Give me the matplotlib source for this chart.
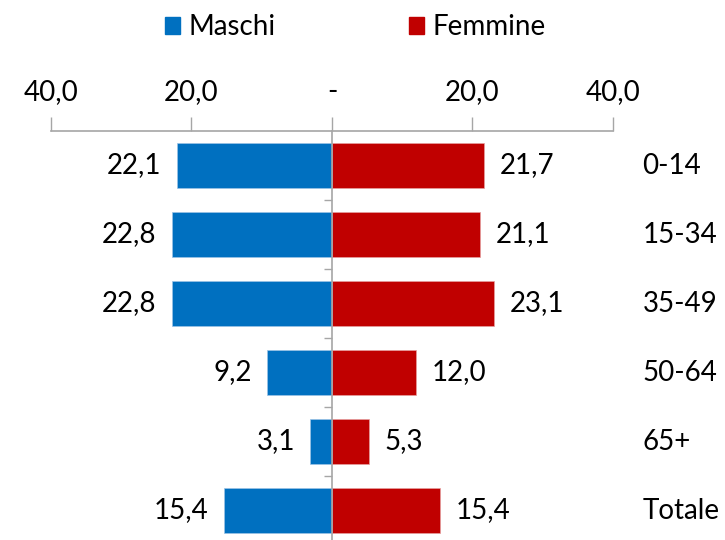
import matplotlib
matplotlib.use("Agg")
import matplotlib.pyplot as plt
from matplotlib.patches import Patch
from matplotlib.ticker import FixedLocator, FuncFormatter

categories = ["0-14", "15-34", "35-49", "50-64", "65+", "Totale"]
maschi = [22.1, 22.8, 22.8, 9.2, 3.1, 15.4]
femmine = [21.7, 21.1, 23.1, 12.0, 5.3, 15.4]
xticks = [-40, -20, 0, 20, 40]

BLUE = "#0070C0"
RED = "#C00000"
GRAY = "#A6A6A6"
FS = 20

plt.rcParams['font.family'] = ['Lato', 'DejaVu Sans']

fig = plt.figure(figsize=(7.25, 5.4), dpi=100)
ax = fig.add_axes([0.0703, -0.0093, 0.7752, 0.7667])

y = list(range(len(categories)))
ax.barh(y, [-v for v in maschi], height=0.64, color=BLUE, edgecolor="#9DC3E6", linewidth=0.5)
ax.barh(y, femmine, height=0.64, color=RED, edgecolor="#E6A0A0", linewidth=0.5)

ax.set_xlim(-40, 40)
ax.set_ylim(len(categories) - 0.5, -0.5)

ax.xaxis.set_ticks_position('top')
ax.xaxis.set_major_locator(FixedLocator(xticks))
ax.xaxis.set_major_formatter(FuncFormatter(
    lambda v, p: "-" if v == 0 else f"{abs(v):.1f}".replace(".", ",")))
ax.tick_params(axis='x', direction='out', length=10, width=1, color=GRAY,
               labelsize=FS, pad=9)

for s in ['right', 'bottom']:
    ax.spines[s].set_visible(False)
ax.spines['top'].set_color(GRAY)
ax.spines['left'].set_color(GRAY)
ax.spines['left'].set_position(('data', 0))
ax.spines['left'].set_linewidth(1.2)
ax.spines['top'].set_linewidth(1.2)

ax.yaxis.set_major_locator(FixedLocator([]))
ax.yaxis.set_minor_locator(FixedLocator([i + 0.5 for i in range(len(categories) - 1)]))
ax.tick_params(axis='y', which='minor', direction='out', length=6, width=1, color=GRAY)

for i, (m, f) in enumerate(zip(maschi, femmine)):
    ax.annotate(f"{m:.1f}".replace(".", ","), xy=(-m, i), xytext=(-11, 0),
                textcoords='offset points', ha='right', va='center', fontsize=FS)
    ax.annotate(f"{f:.1f}".replace(".", ","), xy=(f, i), xytext=(11, 0),
                textcoords='offset points', ha='left', va='center', fontsize=FS)
    ax.text(44.2, i, categories[i], ha='left', va='center', fontsize=FS, clip_on=False)

handles = [Patch(color=BLUE, label="Maschi"), Patch(color=RED, label="Femmine")]
fig.legend(handles=handles, loc='center', bbox_to_anchor=(0.49, 0.95), ncol=2,
           frameon=False, fontsize=FS, handlelength=0.55, handleheight=0.55,
           handletextpad=0.3, columnspacing=4.8)

fig.savefig("out.png", dpi=100)
